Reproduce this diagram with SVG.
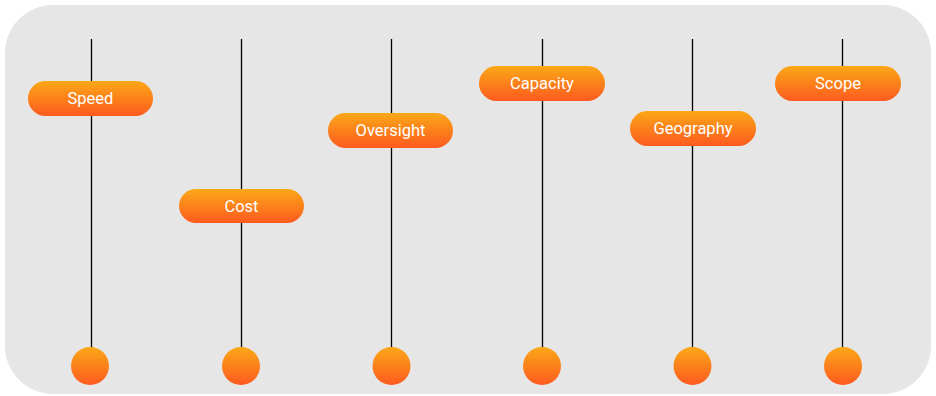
<svg xmlns="http://www.w3.org/2000/svg" width="936" height="396" viewBox="0 0 936 396">
<defs>
<linearGradient id="og" x1="0" y1="0" x2="0" y2="1">
<stop offset="0" stop-color="#fba817"/>
<stop offset="1" stop-color="#fd5a1f"/>
</linearGradient>
<style>
.pill{fill:url(#og);}
.dot{fill:url(#og);}
.lbl{font-family:Roboto,"Liberation Sans",sans-serif;font-size:16.5px;fill:#ffffff;text-anchor:middle;dominant-baseline:central;}
.ln{stroke:#000;stroke-width:1.3;fill:none;}
</style>
</defs>
<rect x="5" y="5" width="926" height="389" rx="48" ry="48" fill="#e6e6e6"/>
<g id="connectors">
<line class="ln" x1="91.5" y1="39" x2="91.5" y2="348"/>
<line class="ln" x1="241.5" y1="39" x2="241.5" y2="348"/>
<line class="ln" x1="391.5" y1="39" x2="391.5" y2="348"/>
<line class="ln" x1="542.5" y1="39" x2="542.5" y2="348"/>
<line class="ln" x1="692.5" y1="39" x2="692.5" y2="348"/>
<line class="ln" x1="842.5" y1="39" x2="842.5" y2="348"/>
</g>
<g id="speed"><rect class="pill" x="28" y="81" width="125" height="35" rx="17.5"/><text class="lbl" x="90.5" y="98.5">Speed</text></g>
<g id="cost"><rect class="pill" x="179" y="189" width="125" height="34" rx="17"/><text class="lbl" x="241.5" y="206">Cost</text></g>
<g id="oversight"><rect class="pill" x="328" y="113" width="125" height="35" rx="17.5"/><text class="lbl" x="390.5" y="130.5">Oversight</text></g>
<g id="capacity"><rect class="pill" x="479" y="66" width="126" height="35" rx="17.5"/><text class="lbl" x="542" y="83.5">Capacity</text></g>
<g id="geography"><rect class="pill" x="630" y="111" width="126" height="35" rx="17.5"/><text class="lbl" x="693" y="128.5">Geography</text></g>
<g id="scope"><rect class="pill" x="775" y="66" width="126" height="35" rx="17.5"/><text class="lbl" x="838" y="83.5">Scope</text></g>
<g id="dot1"><circle class="dot" cx="90" cy="366" r="19"/></g>
<g id="dot2"><circle class="dot" cx="241" cy="366" r="19"/></g>
<g id="dot3"><circle class="dot" cx="391.5" cy="366" r="19"/></g>
<g id="dot4"><circle class="dot" cx="542" cy="366" r="19"/></g>
<g id="dot5"><circle class="dot" cx="692.5" cy="366" r="19"/></g>
<g id="dot6"><circle class="dot" cx="843" cy="366" r="19"/></g>
</svg>
